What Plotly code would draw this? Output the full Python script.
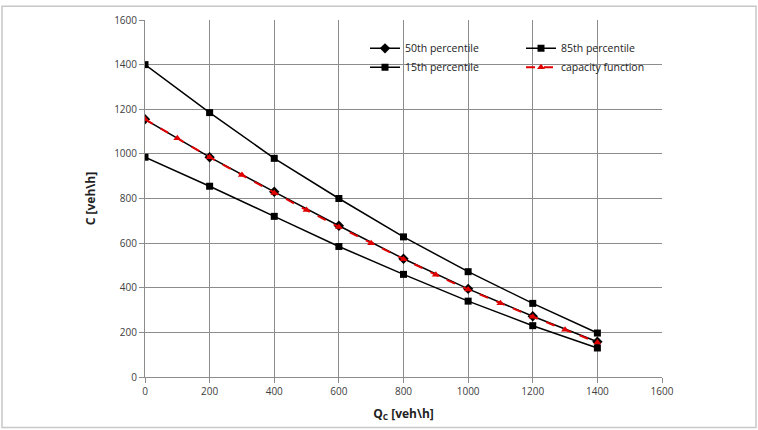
import plotly.graph_objects as go

x_pct = [0, 200, 400, 600, 800, 1000, 1200, 1400]
p50 = [1155, 985, 830, 678, 530, 395, 272, 158]
p85 = [1400, 1185, 980, 800, 628, 472, 330, 197]
p15 = [985, 855, 720, 585, 460, 340, 230, 130]
x_cap = [0, 100, 200, 300, 400, 500, 600, 700, 800, 900, 1000, 1100, 1200, 1300, 1400]
cap = [1155, 1070, 985, 905, 825, 748, 672, 600, 528, 458, 392, 330, 270, 212, 155]
ticks = [0, 200, 400, 600, 800, 1000, 1200, 1400, 1600]

W, H = 758, 430
L, R, T, B = 145, 96, 16, 53
pw, ph = W - L - R, H - T - B

fig = go.Figure()
fig.add_trace(go.Scatter(x=x_pct, y=p50, name="50th percentile", mode="lines+markers",
                         line=dict(color="black", width=1.5),
                         marker=dict(symbol="diamond", size=8, color="black"), legend="legend"))
fig.add_trace(go.Scatter(x=x_pct, y=p85, name="85th percentile", mode="lines+markers",
                         line=dict(color="black", width=1.5),
                         marker=dict(symbol="square", size=7, color="black"), legend="legend2"))
fig.add_trace(go.Scatter(x=x_pct, y=p15, name="15th percentile", mode="lines+markers",
                         line=dict(color="black", width=1.5),
                         marker=dict(symbol="square", size=7, color="black"), legend="legend"))
fig.add_trace(go.Scatter(x=x_cap, y=cap, name="capacity function", mode="lines+markers",
                         line=dict(color="#e00000", width=2, dash="dash"),
                         marker=dict(symbol="triangle-up", size=7, color="#e00000"), legend="legend2"))

font = dict(family="Open Sans, sans-serif", size=10, color="#404040")
legfont = dict(family="Open Sans, sans-serif", size=10.5, color="#222")


def leg(px_left, px_top):
    return dict(x=(px_left - L) / pw, y=(H - B - px_top) / ph, xanchor="left", yanchor="top",
                bgcolor="rgba(0,0,0,0)", font=legfont, tracegroupgap=0)


fig.update_layout(
    width=W, height=H,
    margin=dict(l=L, r=R, t=T, b=B),
    paper_bgcolor="white", plot_bgcolor="white",
    font=font,
    legend=leg(365, 30),
    legend2=leg(521, 30),
    xaxis=dict(range=[0, 1600], tickvals=ticks, showgrid=True, gridcolor="#8c8c8c", gridwidth=1,
               showline=True, linecolor="#8c8c8c", ticks="outside", ticklen=5, tickcolor="#8c8c8c",
               zeroline=False,
               title=dict(text="<b>Q<sub>C</sub> [veh\\h]</b>", font=dict(family="Open Sans, sans-serif", size=12, color="#222"), standoff=12)),
    yaxis=dict(range=[0, 1600], tickvals=ticks, showgrid=True, gridcolor="#8c8c8c", gridwidth=1,
               showline=True, linecolor="#8c8c8c", ticks="outside", ticklen=5, tickcolor="#8c8c8c",
               zeroline=False,
               title=dict(text="<b>C [veh\\h]</b>", font=dict(family="Open Sans, sans-serif", size=12, color="#222"), standoff=15)),
    shapes=[dict(type="rect", xref="paper", yref="paper",
                 x0=(2 - L) / pw, x1=(W - 2 - L) / pw,
                 y0=(H - B - (H - 2)) / ph, y1=(H - B - 2) / ph,
                 line=dict(color="#c8c8c8", width=1.5), layer="below")],
)
fig.write_html("out.html")
